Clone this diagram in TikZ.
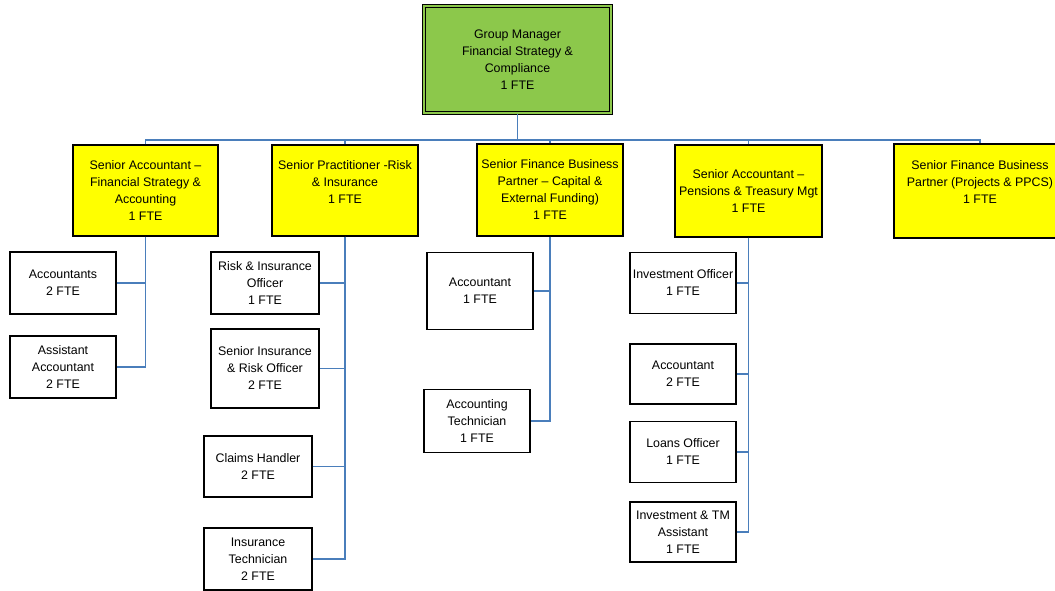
\documentclass[tikz,border=0pt]{standalone}
\usepackage{fontspec}
\setmainfont{Liberation Sans}
\usetikzlibrary{positioning}
\definecolor{linkblue}{RGB}{74,126,187}
\definecolor{headgreen}{RGB}{140,200,75}
\definecolor{leadyellow}{RGB}{255,255,0}
\tikzset{
x=0.75pt, y=-0.75pt, % one unit is one pixel of the chart, y runs downwards
every node/.style={font=\fontsize{9.3}{12.75}\selectfont, align=center}, % text of every box
sz/.style 2 args={minimum width=#1*0.75pt, minimum height=#2*0.75pt}, % box size in pixels
post/.style={draw=black, line width=1pt, inner sep=0pt}, % every box of the chart
head/.style={post, fill=headgreen, double=headgreen, double distance=1.5pt, line width=1pt}, % the manager
lead/.style={post, fill=leadyellow}, % the five team leads
staff/.style={post, fill=white}, % the posts under a lead
link/.style={draw=linkblue, line width=0.8pt}, % reporting lines
}

\begin{document}
\begin{tikzpicture}
        \useasboundingbox (0,0) rectangle (1055,591);
        \clip (0,0) rectangle (1055,591);

        \node[head, sz={187}{107}] (gm) at (517.5,59.5) {Group Manager\\Financial Strategy \&\\Compliance\\1 FTE};

        \node[lead, sz={145}{91}] (sa1) at (145.5,190.5) {Senior Accountant --\\Financial Strategy \&\\Accounting\\1 FTE};
        \node[lead, sz={146}{91}] (sp) at (345,190.5) {Senior Practitioner -Risk\\\& Insurance\\1 FTE\\~};
        \node[lead, sz={146}{92}] (sfb1) at (550,190) {Senior Finance Business\\Partner -- Capital \&\\External Funding)\\1 FTE};
        \node[lead, sz={147}{92}] (sa2) at (748.5,191) {Senior Accountant --\\Pensions \& Treasury Mgt\\1 FTE};
        \node[lead, sz={172}{94}] (sfb2) at (980,191) {Senior Finance Business\\Partner (Projects \& PPCS)\\1 FTE\\~};

        \node[staff, sz={106}{62}] (accs) at (63,283) {Accountants\\2 FTE};
        \node[staff, sz={106}{62}] (asst) at (63,367) {Assistant\\Accountant\\2 FTE};

        \node[staff, sz={108}{62}] (rio) at (265,283) {Risk \& Insurance\\Officer\\1 FTE};
        \node[staff, sz={108}{79}] (siro) at (265,368.5) {Senior Insurance\\\& Risk Officer\\2 FTE};
        \node[staff, sz={108}{61}] (ch) at (258,466.5) {Claims Handler\\2 FTE};
        \node[staff, sz={108}{62}] (it) at (258,559) {Insurance\\Technician\\2 FTE};

        \node[staff, sz={106}{77}] (acc1) at (480,291) {Accountant\\1 FTE};
        \node[staff, sz={106}{63}] (at) at (477,421) {Accounting\\Technician\\1 FTE};

        \node[staff, sz={106}{61}] (io) at (683,283) {Investment Officer\\1 FTE};
        \node[staff, sz={106}{60}] (acc2) at (683,374) {Accountant\\2 FTE};
        \node[staff, sz={106}{61}] (lo) at (683,452) {Loans Officer\\1 FTE};
        \node[staff, sz={106}{60}] (itm) at (683,532) {Investment \& TM\\Assistant\\1 FTE};

        % manager to the leads
        \coordinate (bus) at (517.5,140);
        \draw[link] (gm.south) -- (gm.south |- bus);
        \draw[link] (sa1.north) -- (sa1.north |- bus) -- (sfb2.north |- bus) -- (sfb2.north);
        \foreach \n in {sp,sfb1,sa2}
            \draw[link] (\n.north) -- (\n.north |- bus);

        % leads to their staff
        \foreach \boss/\kid in {sa1/accs, sa1/asst, sp/rio, sp/siro, sp/ch, sp/it, sfb1/acc1, sfb1/at, sa2/io, sa2/acc2, sa2/lo, sa2/itm}
            \draw[link] (\boss.south) |- (\kid.east);
    \end{tikzpicture}
\end{document}
